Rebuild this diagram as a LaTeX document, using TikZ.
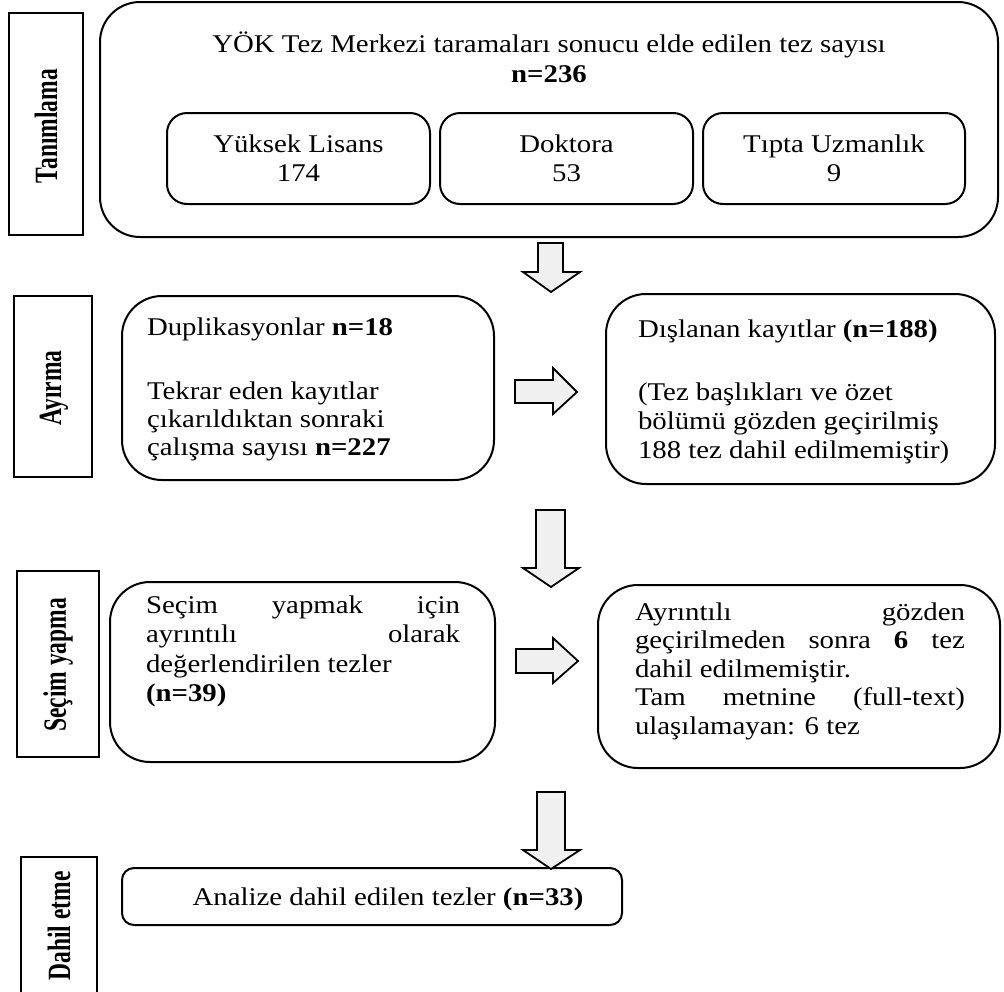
\documentclass[tikz,border=0pt]{standalone}
\usepackage{fontspec}
\usepackage{graphicx}
\setmainfont[FakeStretch=1.13]{Liberation Serif}
\newfontfamily\lblfont{Liberation Serif}
\tikzset{
  txt/.style={font=\fontsize{25.5}{29}\selectfont, inner sep=0pt, outer sep=0pt},
  rbox/.style={draw, line width=2pt, rounded corners=40pt, inner sep=0pt, outer sep=0pt},
  sbox/.style={draw, line width=2pt, rounded corners=20pt, inner sep=0pt, outer sep=0pt},
  lbox/.style={draw, line width=1.6pt, inner sep=0pt, outer sep=0pt},
  lbl/.style={font=\lblfont\fontsize{23.5}{26}\selectfont\bfseries, rotate=90, inner sep=0pt},
  barrow/.style={draw, line width=1.8pt, fill=black!6, line join=miter}
}
\newcommand{\lblt}[1]{\scalebox{1}[1.38]{#1}}
\newcommand{\jline}[2]{\makebox[#1][s]{#2}}
\begin{document}
\begin{tikzpicture}[x=1pt,y=-1pt]
\useasboundingbox (0,0) rectangle (1004,991);
\path[clip] (0,0) rectangle (1004,991);

% ---------- label boxes ----------
\draw[lbox] (9,13) rectangle (83,235);
\node[lbl] (l1) at (46,126) {\lblt{Tanımlama}};
\draw[lbox] (14,296) rectangle (92,477);
\node[lbl] (l2) at (54,388) {\lblt{Ayırma}};
\draw[lbox] (17,571) rectangle (99,757);
\node[lbl] (l3) at (58,665) {\lblt{Seçim yapma}};
\draw[lbox] (21,1000) -- (21,857) -- (97,857) -- (97,1000);
\node[lbl] (l4) at (59,926) {\lblt{Dahil etme}};

% ---------- top block ----------
\node[rbox, minimum width=898pt, minimum height=235pt] (top) at (549,119.5) {};
\node[txt, anchor=base] (t1) at (549,52) {YÖK Tez Merkezi taramaları sonucu elde edilen tez sayısı};
\node[txt, anchor=base] (t2) at (549,82) {\textbf{n=236}};

\node[sbox, minimum width=263pt, minimum height=91pt] (yl) at (298.5,158.5) {};
\node[txt, anchor=base] (yl1) at (298.5,152) {Yüksek Lisans};
\node[txt, anchor=base] (yl2) at (298.5,181) {174};
\node[sbox, minimum width=253pt, minimum height=91pt] (dk) at (566.5,158.5) {};
\node[txt, anchor=base] (dk1) at (566.5,152) {Doktora};
\node[txt, anchor=base] (dk2) at (566.5,181) {53};
\node[sbox, minimum width=262pt, minimum height=91pt] (tu) at (834,158.5) {};
\node[txt, anchor=base] (tu1) at (834,152) {Tıpta Uzmanlık};
\node[txt, anchor=base] (tu2) at (834,181) {9};

% ---------- Ayırma row ----------
\node[rbox, minimum width=372pt, minimum height=184pt] (dup) at (308,388) {};
\node[txt, anchor=base west] (d1) at (147,335) {Duplikasyonlar \textbf{n=18}};
\node[txt, anchor=base west] (d2) at (147,399) {Tekrar eden kayıtlar};
\node[txt, anchor=base west] (d3) at (147,427) {çıkarıldıktan sonraki};
\node[txt, anchor=base west] (d4) at (147,455) {çalışma sayısı \textbf{n=227}};

\node[rbox, minimum width=389pt, minimum height=190pt] (dis) at (800.5,389) {};
\node[txt, anchor=base west] (e1) at (638,337) {Dışlanan kayıtlar \textbf{(n=188)}};
\node[txt, anchor=base west] (e2) at (638,400) {(Tez başlıkları ve özet};
\node[txt, anchor=base west] (e3) at (638,429) {bölümü gözden geçirilmiş};
\node[txt, anchor=base west] (e4) at (638,458) {188 tez dahil edilmemiştir)};

% ---------- Seçim row ----------
\node[rbox, minimum width=385pt, minimum height=180pt] (sec) at (302.5,672) {};
\node[txt, anchor=base west] (s1) at (146,613) {\jline{314pt}{Seçim yapmak için}};
\node[txt, anchor=base west] (s2) at (146,642.5) {\jline{314pt}{ayrıntılı olarak}};
\node[txt, anchor=base west] (s3) at (146,672) {değerlendirilen tezler};
\node[txt, anchor=base west] (s4) at (146,701.5) {\textbf{(n=39)}};

\node[rbox, minimum width=402pt, minimum height=183pt] (ayr) at (799,676.5) {};
\node[txt, anchor=base west] (a1) at (635,620) {\jline{330pt}{Ayrıntılı gözden}};
\node[txt, anchor=base west] (a2) at (635,648.5) {\jline{330pt}{geçirilmeden sonra \textbf{6} tez}};
\node[txt, anchor=base west] (a3) at (635,677) {dahil edilmemiştir.};
\node[txt, anchor=base west] (a4) at (635,705.5) {\jline{330pt}{Tam metnine (full-text)}};
\node[txt, anchor=base west] (a5) at (635,734) {ulaşılamayan: 6 tez};

% ---------- final ----------
\node[draw, line width=2pt, rounded corners=12pt, minimum width=500pt, minimum height=57pt, inner sep=0pt] (fin) at (372,896.5) {};
\node[txt, anchor=base] (f1) at (388,905) {Analize dahil edilen tezler \textbf{(n=33)}};

% ---------- block arrows ----------
\draw[barrow] (538,243) -- (563,243) -- (563,272) -- (580,272) -- (551,292) -- (523,272) -- (538,272) -- cycle;
\draw[barrow] (515,380) -- (553,380) -- (553,368) -- (577,392) -- (553,414) -- (553,403) -- (515,403) -- cycle;
\draw[barrow] (536,510) -- (565,510) -- (565,568) -- (579,568) -- (551,587) -- (523,568) -- (536,568) -- cycle;
\draw[barrow] (516,649) -- (553,649) -- (553,638) -- (578,661) -- (553,683) -- (553,673) -- (516,673) -- cycle;
\draw[barrow] (537,792) -- (565,792) -- (565,850) -- (580,850) -- (551,869) -- (523,850) -- (537,850) -- cycle;
\end{tikzpicture}
\end{document}
